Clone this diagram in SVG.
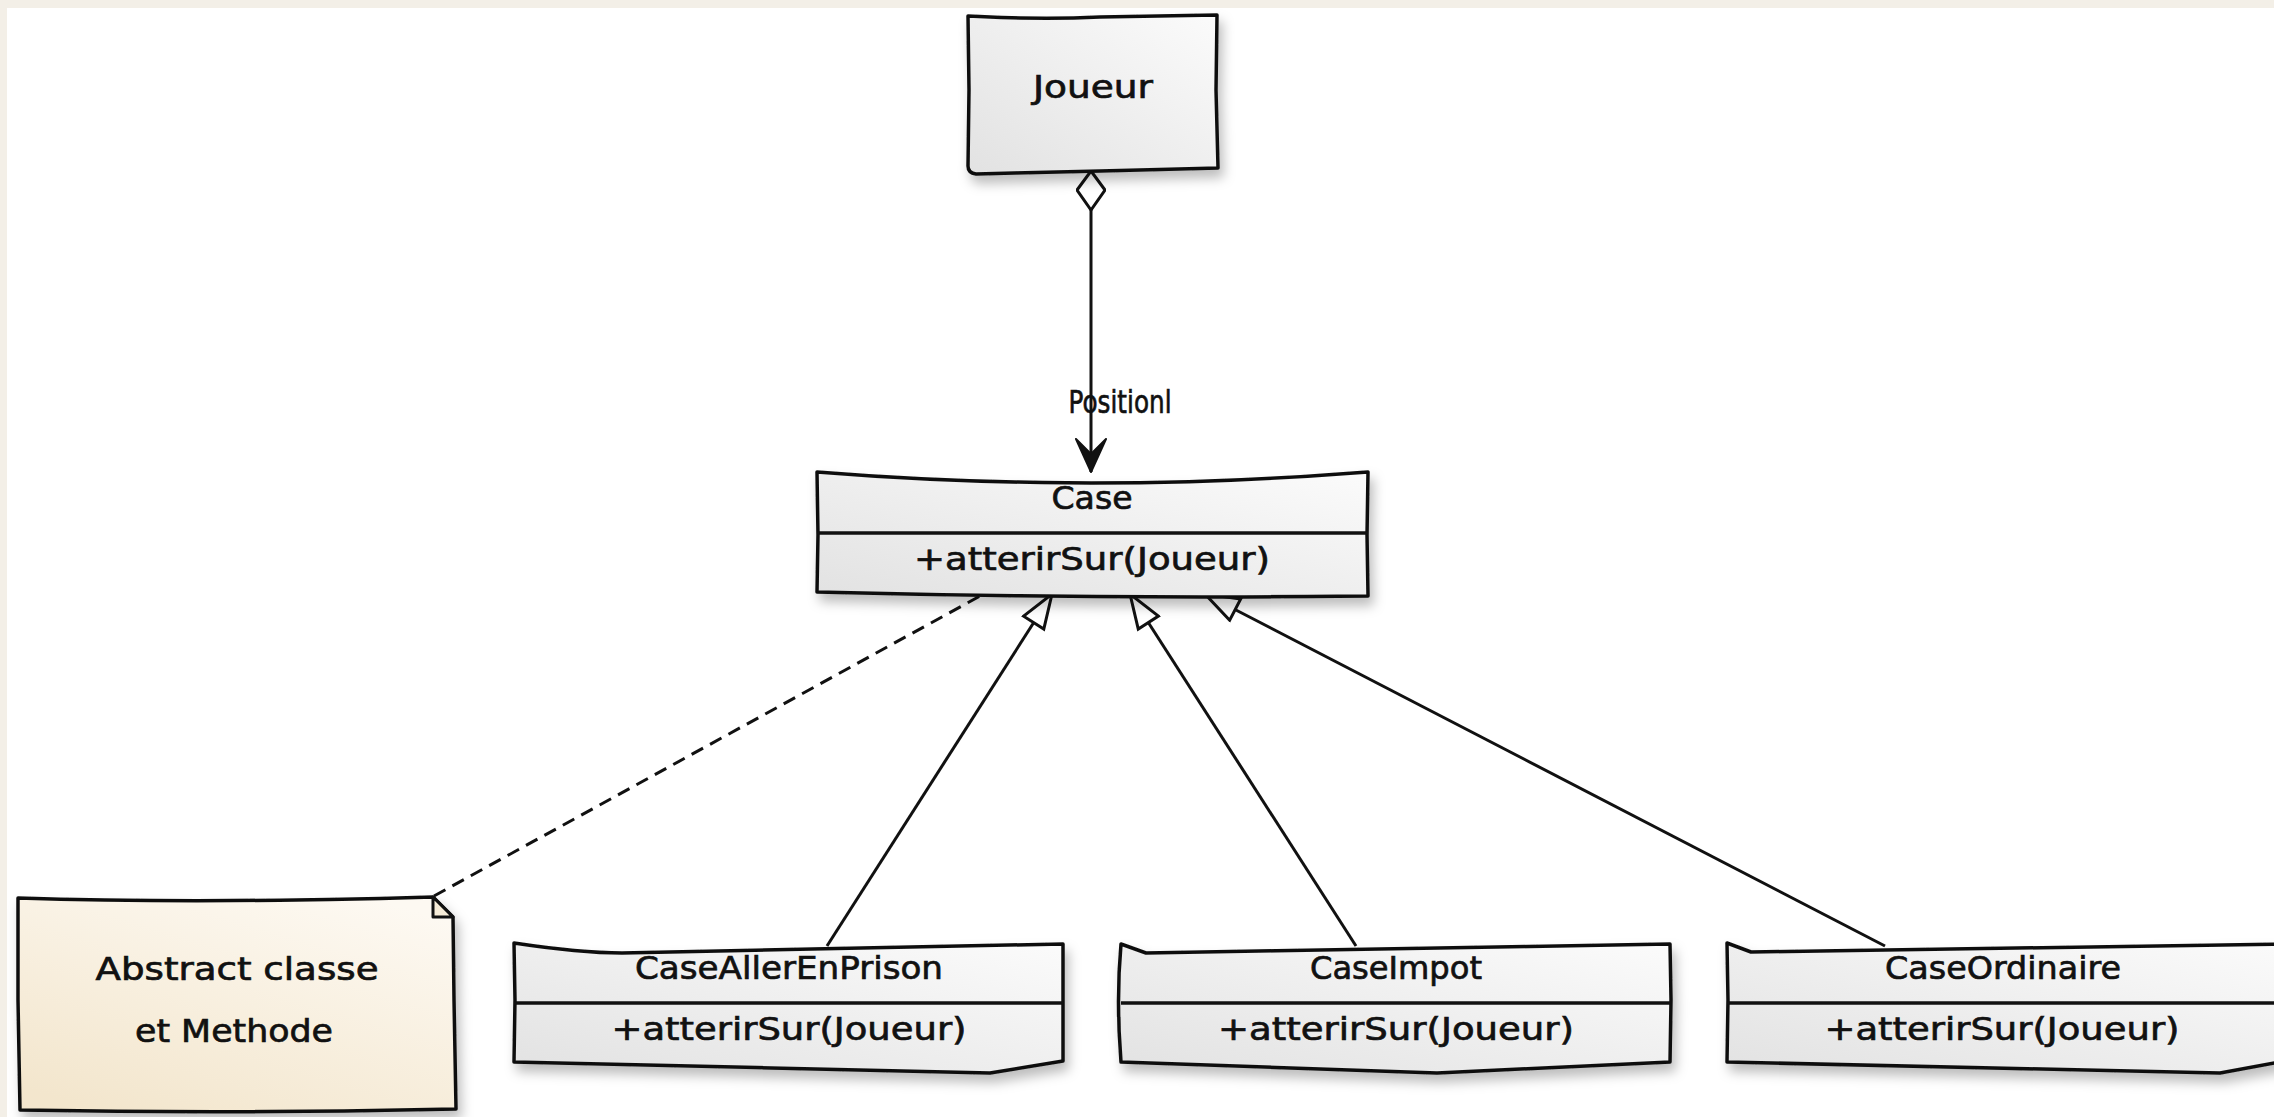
<svg xmlns="http://www.w3.org/2000/svg" width="2274" height="1117" viewBox="0 0 2274 1117">
<defs>
<linearGradient id="boxFill" x1="1" y1="0" x2="0" y2="1">
<stop offset="0" stop-color="#fbfbfb"/>
<stop offset="1" stop-color="#e2e2e2"/>
</linearGradient>
<linearGradient id="noteFill" x1="0.8" y1="0" x2="0.2" y2="1">
<stop offset="0" stop-color="#fdf9f2"/>
<stop offset="1" stop-color="#f3e6cd"/>
</linearGradient>
<filter id="shadow" x="-10%" y="-20%" width="130%" height="160%">
<feDropShadow dx="4" dy="8" stdDeviation="6" flood-color="#000" flood-opacity="0.26"/>
</filter>
<marker id="diamond" viewBox="0 0 42 30" refX="1" refY="15" markerWidth="42" markerHeight="30" markerUnits="userSpaceOnUse" orient="auto">
<path d="M1,15 L20,1 L40,15 L20,29 Z" fill="#fff" stroke="#111" stroke-width="3"/>
</marker>
<marker id="openArrow" viewBox="0 0 36 34" refX="34" refY="17" markerWidth="36" markerHeight="34" markerUnits="userSpaceOnUse" orient="auto">
<path d="M1,2 L34,17 L1,32 L16,17 Z" fill="#111" stroke="#111" stroke-width="2" stroke-linejoin="round"/>
</marker>
<marker id="genArrow" viewBox="0 0 38 28" refX="36" refY="14" markerWidth="38" markerHeight="28" markerUnits="userSpaceOnUse" orient="auto">
<path d="M2,2 L36,14 L2,26 Z" fill="#fff" stroke="#111" stroke-width="3" stroke-linejoin="miter"/>
</marker>
</defs>
<style>
.box { fill: url(#boxFill); stroke: #111; stroke-width: 3.5; stroke-linejoin: round; filter: url(#shadow); }
.note { fill: url(#noteFill); stroke: #111; stroke-width: 3.5; stroke-linejoin: round; filter: url(#shadow); }
.fold { fill: #f6ecd8; stroke: #111; stroke-width: 3; stroke-linejoin: round; }
.div { fill: none; stroke: #111; stroke-width: 3.5; }
.txt { font-family: "DejaVu Sans", "Liberation Sans", sans-serif; font-size: 32px; fill: #111; stroke: #111; stroke-width: 0.7; text-anchor: middle; }
.conn { fill: none; stroke: #111; stroke-width: 3; }
</style>
<rect x="0" y="0" width="2274" height="1117" fill="#f3efe7"/>
<rect x="7" y="8" width="2267" height="1109" fill="#ffffff"/>

<g id="connectors">
<path class="conn" d="M1091,171 L1091,472" marker-start="url(#diamond)" marker-end="url(#openArrow)"/>
<text class="txt" x="1120" y="413" font-size="29" textLength="103" lengthAdjust="spacingAndGlyphs">Positionl</text>
<path class="conn" d="M434,896 L980,596" stroke-dasharray="13 8"/>
<path class="conn" d="M827,946 L1052,594" marker-end="url(#genArrow)"/>
<path class="conn" d="M1356,946 L1130,594" marker-end="url(#genArrow)"/>
<path class="conn" d="M1885,946 L1205,594" marker-end="url(#genArrow)"/>
</g>

<g id="node-joueur">
<path class="box" d="M968,16 Q1040,20 1100,17 L1217,15 L1216,90 L1218,168 L1100,171 L976,174 Q968,173 968,166 L969,90 Z"/>
<text class="txt" x="1093" y="98" font-size="35" textLength="120" lengthAdjust="spacingAndGlyphs">Joueur</text>
</g>

<g id="node-case">
<path class="box" d="M817,472 Q1090,494 1368,472 L1367,535 L1368,596 Q1090,599 817,592 L818,535 Z"/>
<path class="div" d="M817,533 L1368,533"/>
<text class="txt" x="1092" y="509" font-size="34" textLength="81" lengthAdjust="spacingAndGlyphs">Case</text>
<text class="txt" x="1092" y="570" font-size="34" textLength="356" lengthAdjust="spacingAndGlyphs">+atterirSur(Joueur)</text>
</g>

<g id="node-note">
<path class="note" d="M18,898 Q200,904 433,897 L453,917 L454,1000 L456,1109 Q240,1114 20,1110 L18,1000 Z"/>
<path class="fold" d="M433,897 L433,917 L453,917 Z"/>
<text class="txt" x="237" y="980" font-size="34" textLength="283" lengthAdjust="spacingAndGlyphs">Abstract classe</text>
<text class="txt" x="234" y="1042" font-size="34" textLength="198" lengthAdjust="spacingAndGlyphs">et Methode</text>
</g>

<g id="node-caseallerenprison">
<path class="box" d="M514,943 Q580,953 622,953 L1063,944 L1063,1061 L990,1073 L514,1062 L515,1000 Z"/>
<path class="div" d="M514,1003 L1063,1003"/>
<text class="txt" x="789" y="979" textLength="308" lengthAdjust="spacingAndGlyphs">CaseAllerEnPrison</text>
<text class="txt" x="789" y="1040" textLength="355" lengthAdjust="spacingAndGlyphs">+atterirSur(Joueur)</text>
</g>

<g id="node-caseimpot">
<path class="box" d="M1121,944 L1146,953 L1670,944 L1671,1000 L1670,1062 L1437,1073 L1121,1062 Q1116,1000 1121,944 Z"/>
<path class="div" d="M1121,1003 L1670,1003"/>
<text class="txt" x="1396" y="979" textLength="172" lengthAdjust="spacingAndGlyphs">CaseImpot</text>
<text class="txt" x="1396" y="1040" textLength="356" lengthAdjust="spacingAndGlyphs">+atterirSur(Joueur)</text>
</g>

<g id="node-caseordinaire">
<path class="box" d="M1727,943 L1751,952 L2290,944 L2290,1060 L2220,1073 L1727,1062 L1728,1000 Z"/>
<path class="div" d="M1727,1003 L2290,1003"/>
<text class="txt" x="2003" y="979" textLength="236" lengthAdjust="spacingAndGlyphs">CaseOrdinaire</text>
<text class="txt" x="2002" y="1040" textLength="355" lengthAdjust="spacingAndGlyphs">+atterirSur(Joueur)</text>
</g>
</svg>
